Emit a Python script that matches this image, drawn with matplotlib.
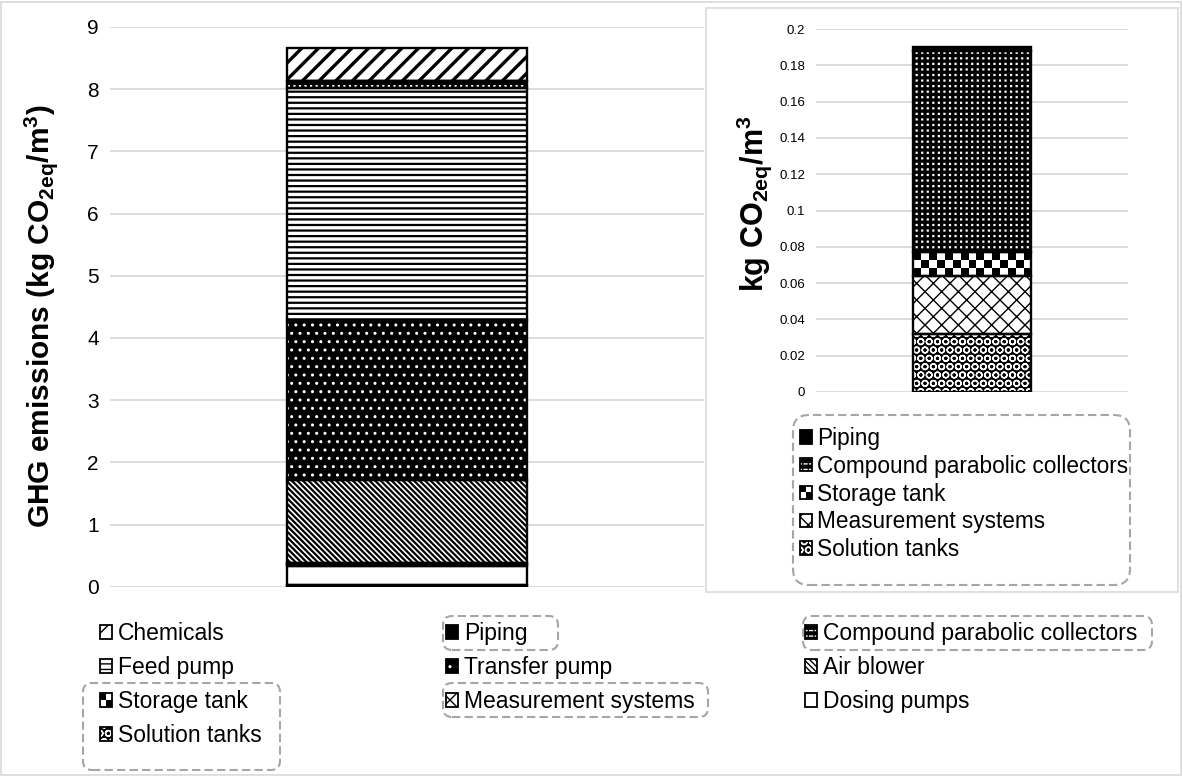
import numpy as np
import matplotlib.pyplot as plt
from matplotlib.patches import Rectangle, FancyBboxPatch, Patch
from matplotlib.legend_handler import HandlerBase, HandlerTuple

plt.rcParams['font.family'] = ['Liberation Sans', 'DejaVu Sans']
plt.rcParams['mathtext.fontset'] = 'custom'
plt.rcParams['mathtext.rm'] = 'Liberation Sans'
plt.rcParams['mathtext.bf'] = 'Liberation Sans:bold'
plt.rcParams['mathtext.it'] = 'Liberation Sans:italic'

# GHG emissions per component (kg CO2eq/m3), stacked from the bottom up
components = ['Solution tanks', 'Dosing pumps', 'Measurement systems', 'Storage tank',
              'Air blower', 'Transfer pump', 'Feed pump',
              'Compound parabolic collectors', 'Piping', 'Chemicals']
ghg = [0.032, 0.30, 0.032, 0.013, 1.34, 2.575, 3.73, 0.111, 0.002, 0.52]

# the small contributions shown again on their own scale
inset_components = ['Solution tanks', 'Measurement systems', 'Storage tank',
                    'Compound parabolic collectors', 'Piping']

main_yticks = np.arange(0, 10, 1)
inset_yticks = np.round(np.arange(0, 0.201, 0.02), 2)

legend_columns = [
    ['Chemicals', 'Feed pump', 'Storage tank', 'Solution tanks'],
    ['Piping', 'Transfer pump', 'Measurement systems'],
    ['Compound parabolic collectors', 'Air blower', 'Dosing pumps'],
]
inset_legend = ['Piping', 'Compound parabolic collectors', 'Storage tank',
                'Measurement systems', 'Solution tanks']

STYLES = {
    'Chemicals': dict(fc='white', hatch='//', hc='black', hlw=2.4),
    'Piping': dict(fc='black'),
    'Compound parabolic collectors': dict(fc='black', hatch='---', hc='white', hlw=1.6,
                                          cut='|||', cut_lw=2.4),
    'Feed pump': dict(fc='white', hatch='---', hc='black', hlw=1.6),
    'Transfer pump': dict(fc='black', hatch='..', hc='white', hlw=1.0),
    'Air blower': dict(fc='white', hatch='\\' * 6, hc='black', hlw=1.6),
    'Storage tank': dict(fc='white', checker=True),
    'Measurement systems': dict(fc='white', hatch='xx', hc='black', hlw=1.0),
    'Dosing pumps': dict(fc='white'),
    'Solution tanks': dict(fc='black', hatch='OO', hc='white', hlw=1.0),
}
values = dict(zip(components, ghg))

W, H = 1183, 776
GRID = '#d9d9d9'


def px_rect(x0, y0, x1, y1):
    # pixel box (top-left origin) -> figure fraction [left, bottom, width, height]
    return [x0 / W, 1 - y1 / H, (x1 - x0) / W, (y1 - y0) / H]


def set_hlw(p, lw):
    if lw is not None and hasattr(p, 'set_hatch_linewidth'):
        p.set_hatch_linewidth(lw)


def add_checker(ax, patch, cell=8):
    x0, y0 = patch.get_x(), patch.get_y()
    x1, y1 = x0 + patch.get_width(), y0 + patch.get_height()
    (px0, py0), (px1, py1) = ax.transData.transform([(x0, y0), (x1, y1)])
    nx = max(1, int(round((px1 - px0) / cell)))
    ny = max(1, int(round((py1 - py0) / cell)))
    grid = np.add.outer(np.arange(ny), np.arange(nx)) % 2
    im = ax.imshow(grid, cmap='gray', vmin=0, vmax=1, extent=(x0, x1, y0, y1),
                   aspect='auto', interpolation='nearest', zorder=2.1)
    im.set_clip_path(patch)


def stacked_bar(ax, names, width):
    bottom = 0.0
    for name in names:
        st = STYLES[name]
        val = values[name]
        base = ax.bar(0, val, width, bottom=bottom, color=st['fc'],
                      edgecolor=st.get('hc', 'black'), hatch=st.get('hatch'),
                      linewidth=0, zorder=2)[0]
        set_hlw(base, st.get('hlw'))
        if 'cut' in st:
            cut = ax.bar(0, val, width, bottom=bottom, fill=False, edgecolor=st['fc'],
                         hatch=st['cut'], linewidth=0, zorder=2.1)[0]
            set_hlw(cut, st['cut_lw'])
        if st.get('checker'):
            add_checker(ax, base)
        ax.bar(0, val, width, bottom=bottom, fill=False, edgecolor='black',
               linewidth=1.7, zorder=3)
        bottom += val


class CheckerKey:
    pass


class HandlerChecker(HandlerBase):
    def create_artists(self, legend, orig_handle, xdescent, ydescent, width, height,
                       fontsize, trans):
        x0, y0 = -xdescent, -ydescent
        w, h = width / 2, height / 2
        arts = [Rectangle((x0, y0), width, height, facecolor='white', edgecolor='none'),
                Rectangle((x0, y0 + h), w, h, facecolor='black', edgecolor='none'),
                Rectangle((x0 + w, y0), w, h, facecolor='black', edgecolor='none'),
                Rectangle((x0, y0), width, height, fill=False, edgecolor='black', linewidth=1.3)]
        for a in arts:
            a.set_transform(trans)
        return arts


def legend_handle(name):
    st = STYLES[name]
    if st.get('checker'):
        return CheckerKey()
    p = Patch(facecolor=st['fc'], edgecolor=st.get('hc', 'black'), hatch=st.get('hatch'),
              linewidth=0)
    set_hlw(p, st.get('hlw'))
    parts = [p]
    if 'cut' in st:
        c = Patch(fill=False, edgecolor=st['fc'], hatch=st['cut'], linewidth=0)
        set_hlw(c, st['cut_lw'])
        parts.append(c)
    parts.append(Patch(fill=False, edgecolor='black', linewidth=1.3))
    return tuple(parts)


HANDLERS = {tuple: HandlerTuple(ndivide=1, pad=0), CheckerKey: HandlerChecker()}


def add_legend(names, x, y, fontsize, spacing):
    fig.legend([legend_handle(n) for n in names], names, loc='upper left',
               bbox_to_anchor=(x / W, 1 - y / H), frameon=False, fontsize=fontsize,
               handlelength=0.52, handleheight=0.52, handletextpad=0.25,
               labelspacing=spacing, borderpad=0, borderaxespad=0, handler_map=HANDLERS)


def dashed_box(x0, y0, x1, y1, r=9):
    box = FancyBboxPatch((x0 / 100, (H - y1) / 100), (x1 - x0) / 100, (y1 - y0) / 100,
                         boxstyle=f'round,pad=0,rounding_size={r / 100}',
                         transform=fig.dpi_scale_trans, fill=False, edgecolor='#a6a6a6',
                         linestyle=(0, (4, 2)), linewidth=1.5)
    fig.add_artist(box)


fig = plt.figure(figsize=(W / 100, H / 100), dpi=100)
fig.add_artist(Rectangle((1 / W, 1 / H), 1 - 3 / W, 1 - 3 / H, transform=fig.transFigure,
                         fill=False, edgecolor=GRID, linewidth=1.2, zorder=-2))

# main stacked bar
ax = fig.add_axes(px_rect(110, 27, 704, 586.7))
ax.set_xlim(-0.5, 0.5)
ax.set_ylim(0, 9)
ax.set_yticks(main_yticks)
ax.set_yticklabels([str(v) for v in main_yticks])
ax.set_xticks([])
ax.tick_params(axis='y', length=0, labelsize=15, pad=8)
ax.grid(axis='y', color=GRID, linewidth=1.3)
ax.set_axisbelow(True)
for s in ax.spines.values():
    s.set_visible(False)
stacked_bar(ax, components, 0.404)
fig.text(41 / W, 1 - 316 / H, r'GHG emissions (kg CO$_{\mathbf{2eq}}$/m$^{\mathbf{3}}$)',
         rotation=90, ha='center', va='center', fontsize=21.5, fontweight='bold')

# inset panel with the minor components
fig.add_artist(Rectangle((706 / W, 1 - 592 / H), 472 / W, 584 / H, transform=fig.transFigure,
                         facecolor='white', edgecolor=GRID, linewidth=1.2, zorder=-1))
ins = fig.add_axes(px_rect(816, 29, 1128, 392))
ins.set_xlim(-0.5, 0.5)
ins.set_ylim(0, 0.2)
ins.set_yticks(inset_yticks)
ins.set_yticklabels([f'{v:g}' for v in inset_yticks])
ins.set_xticks([])
ins.tick_params(axis='y', length=0, labelsize=9.5, pad=8)
ins.grid(axis='y', color=GRID, linewidth=1.3)
ins.set_axisbelow(True)
ins.patch.set_alpha(0)
for s in ins.spines.values():
    s.set_visible(False)
stacked_bar(ins, inset_components, 0.38)
fig.text(754 / W, 1 - 204 / H, r'kg CO$_{\mathbf{2eq}}$/m$^{\mathbf{3}}$',
         rotation=90, ha='center', va='center', fontsize=22, fontweight='bold')

# legends
add_legend(inset_legend, 800, 427, 16.3, 0.21)
dashed_box(793, 415, 1130, 585, r=16)

for names, x in zip(legend_columns, [100, 446, 805]):
    add_legend(names, x, 622, 16.5, 0.48)
dashed_box(443, 616, 558, 650)
dashed_box(803, 616, 1152, 650)
dashed_box(83, 683, 280, 770)
dashed_box(443, 683, 708, 717)

fig.savefig('out.png', dpi=100)
